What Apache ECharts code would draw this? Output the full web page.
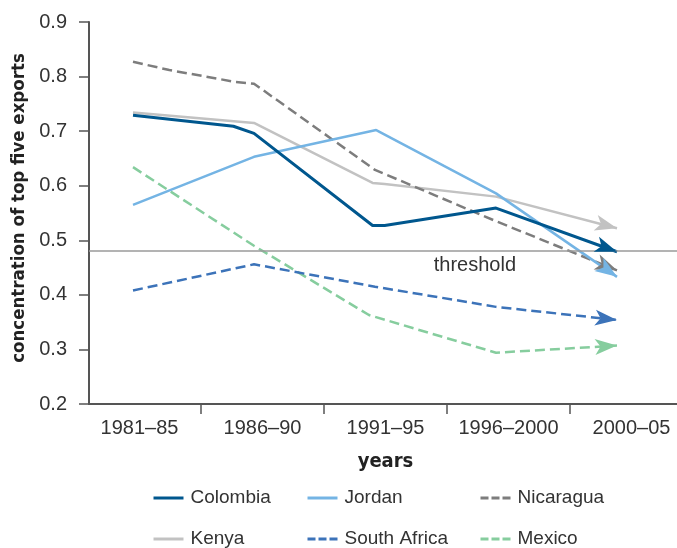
<!DOCTYPE html>
<html>
<head>
<meta charset="utf-8">
<script src="https://cdn.jsdelivr.net/npm/echarts@6/dist/echarts.min.js"></script>
<style>html,body{margin:0;padding:0;background:#fff}#c{width:677px;height:548px}</style>
</head>
<body>
<div id="c"></div>
<script>
// ---- data ----
const categories = ['1981–85', '1986–90', '1991–95', '1996–2000', '2000–05'];
const yTickMin = 0.2, yTickMax = 0.9, yTickStep = 0.1;
const threshold = 0.483;
// [category position, value]
const colombia    = [[0, 0.729], [0.83, 0.709], [1, 0.696], [1.98, 0.527], [2.08, 0.527], [3, 0.559], [4, 0.479]];
const jordan      = [[0, 0.565], [1, 0.653], [2.01, 0.702], [3, 0.586], [4, 0.433]];
const nicaragua   = [[0, 0.827], [0.3, 0.812], [0.85, 0.790], [1, 0.787], [2, 0.629], [3, 0.535], [4, 0.445]];
const kenya       = [[0, 0.734], [1, 0.715], [1.98, 0.605], [2.08, 0.603], [3, 0.580], [4, 0.522]];
const southAfrica = [[0, 0.408], [1, 0.456], [2, 0.415], [3, 0.378], [4, 0.354]];
const mexico      = [[0, 0.634], [1, 0.490], [1.95, 0.363], [3, 0.294], [4, 0.307]];
const legendRows  = [['Colombia', 'Jordan', 'Nicaragua'], ['Kenya', 'South Africa', 'Mexico']];
const dashedSeries = ['Nicaragua', 'South Africa', 'Mexico'];

const FONT = "'Liberation Sans', Arial, sans-serif";
const NARROW = "'DejaVu Sans Condensed', 'DejaVu Sans', sans-serif";
const AX = '#555';

function mk(name, data, color, width) {
  const n = data.length;
  const dashed = dashedSeries.indexOf(name) >= 0;
  return {
    name: name, type: 'line', xAxisIndex: 0, yAxisIndex: 0,
    data: data, symbol: 'none', showSymbol: false, silent: true,
    lineStyle: { color: color, width: width, type: dashed ? [10, 5] : 'solid', cap: 'butt' },
    itemStyle: { color: color },
    emphasis: { disabled: true },
    markLine: {
      silent: true, animation: false,
      symbol: ['none', 'arrow'], symbolSize: [12, 22],
      label: { show: false },
      emphasis: { disabled: true },
      lineStyle: { color: color, width: 0, type: 'solid' },
      data: [[{ coord: data[n - 2] }, { coord: data[n - 1] }]]
    }
  };
}

const colLeft = [152, 306, 479];
const rowTop = [488, 529];
const legends = [];
legendRows.forEach(function (row, r) {
  row.forEach(function (name, c) {
    const dashed = dashedSeries.indexOf(name) >= 0;
    legends.push({
      data: [name], left: colLeft[c], top: rowTop[r], orient: 'horizontal', padding: 0,
      itemWidth: 30, itemHeight: 14, selectedMode: false,
      itemStyle: { opacity: 0 },
      lineStyle: { width: 3, type: dashed ? [8, 3] : 'solid', cap: 'butt' },
      textStyle: { fontSize: 19, lineHeight: 20, color: '#333', padding: [0, 0, 0, 2], fontFamily: FONT }
    });
  });
});

const chart = echarts.init(document.getElementById('c'), null, { renderer: 'canvas' });
chart.setOption({
  animation: false,
  backgroundColor: '#fff',
  textStyle: { fontFamily: FONT },
  grid: [
    { left: 89, right: 0, top: 22, bottom: 144, outerBoundsMode: 'none', containLabel: false },
    { left: 78, width: 615, top: 22, bottom: 144, outerBoundsMode: 'none', containLabel: false },
    { left: 201, width: 369, top: 22, bottom: 144, outerBoundsMode: 'none', containLabel: false }
  ],
  xAxis: [
    { type: 'value', gridIndex: 0, min: -44 / 121, max: 544 / 121,
      axisLine: { show: true, onZero: false, lineStyle: { color: AX, width: 2 } },
      axisTick: { show: false }, axisLabel: { show: false }, splitLine: { show: false } },
    { type: 'category', gridIndex: 1, data: categories, boundaryGap: true,
      axisLine: { show: false, onZero: false }, axisTick: { show: false },
      axisLabel: { interval: 0, fontSize: 20, color: '#333', margin: 14, fontFamily: FONT },
      name: 'years', nameLocation: 'middle', nameGap: 48,
      nameTextStyle: { fontSize: 20, fontWeight: 'bold', color: '#222', fontFamily: NARROW } },
    { type: 'value', gridIndex: 2, min: 1, max: 4, interval: 1,
      axisLine: { show: false, onZero: false },
      axisTick: { show: true, length: 10, lineStyle: { color: AX, width: 1.5 } },
      axisLabel: { show: false }, splitLine: { show: false } }
  ],
  yAxis: [
    { type: 'value', gridIndex: 0, min: yTickMin, max: yTickMax, interval: yTickStep,
      axisLine: { show: true, onZero: false, lineStyle: { color: AX, width: 2 } },
      axisTick: { show: true, length: 10, lineStyle: { color: AX, width: 1.5 } },
      axisLabel: { fontSize: 20, color: '#333', margin: 22, fontFamily: FONT,
        formatter: function (v) { return v.toFixed(1); } },
      splitLine: { show: false },
      name: 'concentration of top five exports', nameLocation: 'middle', nameGap: 55, nameRotate: 90,
      nameTextStyle: { fontSize: 18.5, fontWeight: 'bold', color: '#222', fontFamily: NARROW,
        padding: [0, 0, 0, 10] } },
    { type: 'value', gridIndex: 1, show: false, min: 0, max: 1 },
    { type: 'value', gridIndex: 2, show: false, min: 0, max: 1 }
  ],
  legend: legends,
  series: [
    { name: 'threshold', type: 'line', xAxisIndex: 0, yAxisIndex: 0, data: [], silent: true,
      markLine: {
        silent: true, symbol: ['none', 'none'], animation: false,
        lineStyle: { color: '#9a9a9a', width: 1.5, type: 'solid' },
        emphasis: { disabled: true },
        label: { show: true, formatter: 'threshold', position: 'insideEndBottom',
          fontSize: 20, color: '#333', fontFamily: FONT, distance: 4, padding: [0, 157, 0, 0] },
        data: [{ yAxis: threshold }]
      } },
    mk('Kenya', kenya, '#c2c2c2', 2.5),
    mk('Nicaragua', nicaragua, '#7d7d7d', 2.5),
    mk('Mexico', mexico, '#86cd9e', 2.5),
    mk('South Africa', southAfrica, '#3c73b9', 2.5),
    mk('Jordan', jordan, '#74b4e4', 2.5),
    mk('Colombia', colombia, '#00578e', 3)
  ]
});
</script>
</body>
</html>
